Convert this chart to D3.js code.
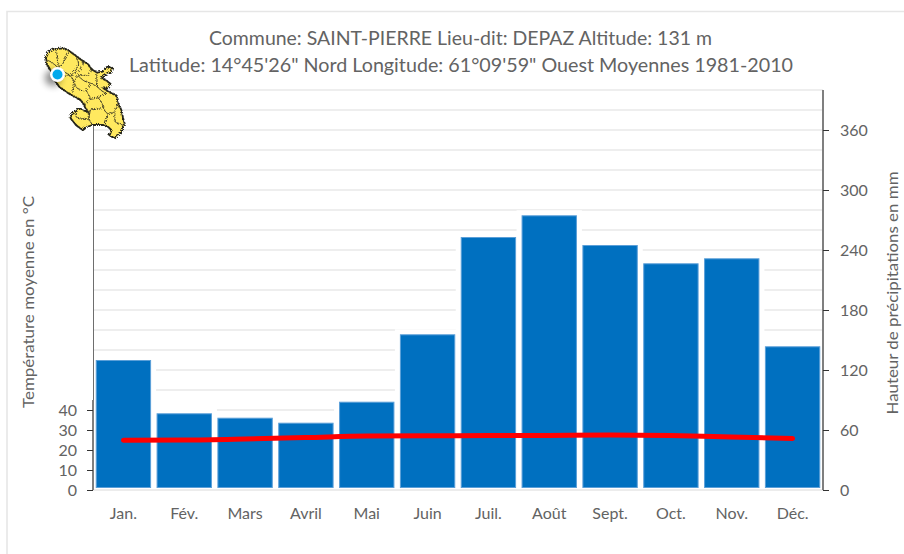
<!DOCTYPE html>
<html><head><meta charset="utf-8">
<script src="https://cdn.jsdelivr.net/npm/d3@7"></script>
<style>html,body{margin:0;padding:0;background:#fff}svg{display:block}text{font-family:Lato,"Open Sans",sans-serif;fill:#636363}</style>
</head><body><svg id="c" width="904" height="554"></svg>
<script>
const months = ["Jan.","Fév.","Mars","Avril","Mai","Juin","Juil.","Août","Sept.","Oct.","Nov.","Déc."];
const precipitation = [130,76.7,72.3,67.3,88.3,155.7,253,274.7,245,226.7,231.7,143.7];
const temperature = [24.9,25,25.5,26.2,27,27.1,27.2,27.3,27.5,27.2,26.5,25.8];
const precipTicks = [0,60,120,180,240,300,360];
const tempTicks = [0,10,20,30,40];
const gridValues = [20,40,60,80,100,120,140,160,180,200,220,240,260,280,300,320,340,360,380,400];
const titleLines = ["Commune: SAINT-PIERRE Lieu-dit: DEPAZ Altitude: 131 m","Latitude: 14°45'26\" Nord Longitude: 61°09'59\" Ouest Moyennes 1981-2010"];

const svg = d3.select("#c");
const x0=93,x1=823,yB=490,yTop=90;
const x = d3.scaleBand().domain(months).range([x0,x1]).paddingInner(0.09).paddingOuter(0.045);
const yP = d3.scaleLinear().domain([0,400]).range([yB,yTop]);
const yT = d3.scaleLinear().domain([0,40]).range([yB,410]);

svg.append("path").attr("d","M7,554V11.5H904").attr("fill","none").attr("stroke","#e6e6e6").attr("stroke-width",1.6);

svg.append("g").selectAll("line").data(gridValues).join("line")
 .attr("x1",x0).attr("x2",x1).attr("y1",d=>yP(d)).attr("y2",d=>yP(d))
 .attr("stroke","#dedede").attr("stroke-width",1.2);

svg.append("g").selectAll("rect").data(months).join("rect")
 .attr("x",d=>x(d)).attr("width",x.bandwidth())
 .attr("y",(d,i)=>yP(precipitation[i])).attr("height",(d,i)=>yB-2-yP(precipitation[i]))
 .attr("fill","#fff").attr("stroke","#fff").attr("stroke-width",10);
svg.append("line").attr("x1",x0).attr("x2",x1).attr("y1",yB).attr("y2",yB).attr("stroke","#d9d9d9").attr("stroke-width",1.2);
svg.append("g").selectAll("rect").data(months).join("rect")
 .attr("x",d=>x(d)+.5).attr("width",x.bandwidth()-1)
 .attr("y",(d,i)=>yP(precipitation[i])+.5).attr("height",(d,i)=>yB-3-yP(precipitation[i]))
 .attr("fill","#0070c0").attr("stroke","#5b9fd8").attr("stroke-width",1);

const line = d3.line().x((d,i)=>x(months[i])+x.bandwidth()/2).y(d=>yT(d)).curve(d3.curveMonotoneX);
svg.append("path").datum(temperature).attr("d",line).attr("fill","none")
 .attr("stroke","#ff0000").attr("stroke-width",5).attr("stroke-linecap","round");

const styleAxis = g=>{
  g.select(".domain").remove();
  g.selectAll(".tick line").attr("stroke","#333").attr("stroke-width",1);
  g.selectAll(".tick text").style("font-size","16px").style("fill","#636363");
};
svg.append("line").attr("x1",x0+.5).attr("x2",x0+.5).attr("y1",125).attr("y2",400).attr("stroke","#6e6e6e").attr("stroke-width",1);
svg.append("line").attr("x1",x0).attr("x2",x0).attr("y1",400).attr("y2",yB).attr("stroke","#7f7f7f").attr("stroke-width",2);
svg.append("line").attr("x1",x1).attr("x2",x1).attr("y1",yTop).attr("y2",yB).attr("stroke","#7f7f7f").attr("stroke-width",2);

const gL = svg.append("g").attr("transform",`translate(${x0},0)`)
 .call(d3.axisLeft(yT).tickValues(tempTicks).tickSize(6).tickPadding(0));
styleAxis(gL);
gL.selectAll(".tick text").attr("text-anchor","end").attr("x",-16);

const gR = svg.append("g").attr("transform",`translate(${x1},0)`)
 .call(d3.axisRight(yP).tickValues(precipTicks).tickSize(6).tickPadding(0));
styleAxis(gR);
gR.selectAll(".tick text").attr("x",17);

const gX = svg.append("g").attr("transform",`translate(0,${yB})`)
 .call(d3.axisBottom(x).tickSize(0).tickPadding(0));
gX.select(".domain").remove();
gX.selectAll(".tick text").attr("y",18).style("font-size","16px").style("fill","#636363");

svg.selectAll("text.t").data(titleLines).join("text").attr("class","t")
 .attr("x",(d,i)=>[460.5,461][i]).attr("y",(d,i)=>[45,72][i]).attr("text-anchor","middle")
 .style("font-size","19.5px").attr("textLength",(d,i)=>[503,664][i]).attr("lengthAdjust","spacingAndGlyphs").text(d=>d);

const rot=(tx,ty,txt,len)=>svg.append("text").attr("transform",`translate(${tx},${ty}) rotate(-90)`)
 .attr("text-anchor","middle").style("font-size","16px").attr("textLength",len).attr("lengthAdjust","spacingAndGlyphs").text(txt);
rot(34,302,"Température moyenne en °C",212);
rot(898,293,"Hauteur de précipitations en mm",243);

// decorative island map, outline traced in picture pixels x3
const outline=[[135,170],[142,155],[160,145],[185,142],[205,150],[225,165],[245,180],[262,190],[272,205],[288,215],[305,212],[325,198],[336,203],[332,214],[312,224],[302,232],[318,240],[330,250],[322,262],[308,262],[322,272],[348,285],[352,305],[362,330],[366,350],[372,372],[362,395],[345,412],[325,405],[332,388],[322,378],[298,372],[275,372],[258,378],[245,388],[225,372],[208,350],[215,338],[235,324],[252,330],[262,335],[250,312],[240,298],[215,285],[195,272],[175,258],[160,235],[150,210],[138,190]];
const inner=[
 [[165,146],[172,180],[175,205]],[[205,152],[190,180],[175,205]],[[136,178],[160,190],[175,205]],[[228,168],[232,195],[208,225]],
 [[248,182],[238,210],[208,225]],[[175,205],[208,225],[220,245],[215,275]],[[272,205],[262,225],[232,225],[220,245]],
 [[232,225],[250,240],[272,248],[292,260]],[[220,245],[232,265],[255,268],[272,248]],[[288,215],[292,260],[318,278]],
 [[255,268],[268,295],[250,312]],[[268,295],[292,290],[318,278]],[[292,290],[308,320],[268,328],[262,335]],
 [[308,320],[322,340],[342,330],[352,305]],[[268,328],[265,355],[275,372]],[[322,340],[312,372]],[[342,330],[345,365],[372,372]],
 [[228,325],[228,350],[265,355]],[[160,235],[195,225],[208,225]],[[150,210],[175,205]]];
const mx=d3.scaleLinear().domain([0,3]).range([0,1]);
const my=d3.scaleLinear().domain([0,3]).range([0,1]);
const mapLine=d3.line().x(d=>mx(d[0])).y(d=>my(d[1]));
const defs=svg.append("defs");
defs.append("filter").attr("id","b").attr("x","-100%").attr("y","-100%").attr("width","300%").attr("height","300%")
 .append("feGaussianBlur").attr("stdDeviation",3.5);
const rough=defs.append("filter").attr("id","r");
rough.append("feTurbulence").attr("baseFrequency",.5).attr("numOctaves",1).attr("seed",3).attr("result","n");
rough.append("feDisplacementMap").attr("in","SourceGraphic").attr("in2","n").attr("scale",1.4);
const m=svg.append("g").attr("filter","url(#r)");
m.append("path").attr("d",mapLine(outline)+"Z").attr("fill","#ffe95e").attr("stroke","#26261a").attr("stroke-width",1.8);
m.selectAll("path.i").data(inner).join("path").attr("class","i").attr("fill","none")
 .attr("d",d3.line().x(d=>mx(d[0])).y(d=>my(d[1])).curve(d3.curveCatmullRom)).attr("stroke","#3a3724").attr("stroke-width",1);
svg.append("circle").attr("cx",53).attr("cy",78).attr("r",8).attr("fill","#000").attr("opacity",.45).attr("filter","url(#b)");
svg.append("circle").attr("cx",57.5).attr("cy",74.5).attr("r",7.5).attr("fill","#fff");
svg.append("circle").attr("cx",57.5).attr("cy",74.5).attr("r",5).attr("fill","#00a9ec");
</script></body></html>
